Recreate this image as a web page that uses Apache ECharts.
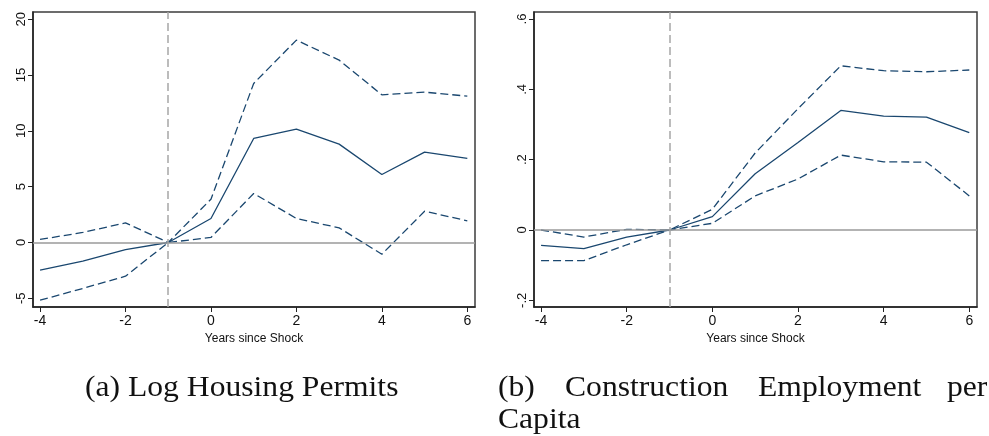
<!DOCTYPE html>
<html>
<head>
<meta charset="utf-8">
<script src="https://cdn.jsdelivr.net/npm/echarts@6/dist/echarts.min.js"></script>
<style>
  html, body { margin: 0; padding: 0; background: #fff; }
  #main { width: 989px; height: 436px; }
</style>
</head>
<body>
<div id="main"></div>
<script>
// years relative to the shock
var years = [-4, -3, -2, -1, 0, 1, 2, 3, 4, 5, 6];

// (a) log housing permits: estimate and 95% band
var permitsEst = [-2.48, -1.68, -0.63, 0, 2.15, 9.32, 10.15, 8.81, 6.09, 8.09, 7.53];
var permitsHi = [0.27, 0.9, 1.76, 0, 3.88, 14.25, 18.13, 16.34, 13.23, 13.47, 13.11];
var permitsLo = [-5.17, -4.12, -3.02, 0, 0.45, 4.39, 2.15, 1.31, -1.05, 2.8, 1.94];

// (b) construction employment per capita
var empEst = [-0.044, -0.053, -0.02, 0, 0.038, 0.16, 0.249, 0.34, 0.324, 0.321, 0.277];
var empHi = [0, -0.02, 0.002, 0, 0.059, 0.219, 0.345, 0.467, 0.453, 0.45, 0.455];
var empLo = [-0.087, -0.087, -0.042, 0, 0.019, 0.097, 0.145, 0.213, 0.194, 0.193, 0.097];

// tick labels
var xTicks = [-4, -2, 0, 2, 4, 6];
var permitsTicks = [-5, 0, 5, 10, 15, 20];
var empTicks = [-0.2, 0, 0.2, 0.4, 0.6];

var shockYear = -1;
var xName = 'Years since Shock';

var navy = '#1a476f';
var sans = 'Liberation Sans, Arial, sans-serif';
var serif = 'Liberation Serif, Times New Roman, serif';

function pairs(vals) {
  return years.map(function (x, i) { return [x, vals[i]]; });
}

function stataNum(v) {
  // Stata drops the leading zero: .4, -.2
  return String(v).replace(/^(-?)0\./, '$1.');
}

function xAxisOpt(idx) {
  return {
    type: 'value', gridIndex: idx, min: -4.165, max: 6.18,
    name: xName, nameLocation: 'middle', nameGap: 21,
    nameTextStyle: { color: '#111', fontSize: 12, fontFamily: sans },
    axisLine: { show: true, onZero: false, lineStyle: { color: '#222', width: 1.5 } },
    axisTick: { show: true, length: 5, customValues: xTicks, lineStyle: { color: '#222', width: 1 } },
    axisLabel: { customValues: xTicks, margin: 7, color: '#111', fontSize: 14, fontFamily: sans },
    splitLine: { show: false }
  };
}

function yAxisOpt(idx, min, max, ticks, fmt) {
  return {
    type: 'value', gridIndex: idx, min: min, max: max,
    axisLine: { show: true, onZero: false, lineStyle: { color: '#222', width: 1.5 } },
    axisTick: { show: true, length: 5, customValues: ticks, lineStyle: { color: '#222', width: 1 } },
    axisLabel: { customValues: ticks, rotate: 90, margin: 5, color: '#111', fontSize: 13,
      fontFamily: sans, formatter: fmt },
    splitLine: { show: false }
  };
}

function refLines(idx) {
  return {
    type: 'line', xAxisIndex: idx, yAxisIndex: idx, data: [], silent: true,
    markLine: {
      silent: true, symbol: 'none', label: { show: false }, animation: false,
      data: [
        { yAxis: 0, lineStyle: { color: '#9a9a9a', width: 1.5, type: 'solid' } },
        { xAxis: shockYear, lineStyle: { color: '#a6a6a6', width: 1.5, type: [8, 4] } }
      ]
    }
  };
}

function band(idx, vals, dashed) {
  return {
    type: 'line', xAxisIndex: idx, yAxisIndex: idx, data: pairs(vals),
    symbol: 'none', silent: true,
    lineStyle: { color: navy, width: 1.3, type: dashed ? [8, 4] : 'solid' }
  };
}

function caption(text, x, y) {
  return {
    type: 'text', x: x, y: y, scaleX: 1.09,
    style: { text: text, fill: '#111', fontSize: 29, fontFamily: serif, align: 'left', verticalAlign: 'middle' }
  };
}

var myChart = echarts.init(document.getElementById('main'), null, { renderer: 'canvas' });

var option = {
  animation: false,
  grid: [
    { left: 33, top: 12, width: 442, height: 295, show: true, borderColor: '#3c3c3c', borderWidth: 1.5 },
    { left: 534, top: 12, width: 443, height: 295, show: true, borderColor: '#3c3c3c', borderWidth: 1.5 }
  ],
  xAxis: [xAxisOpt(0), xAxisOpt(1)],
  yAxis: [
    yAxisOpt(0, -5.78, 20.65, permitsTicks, function (v) { return String(v); }),
    yAxisOpt(1, -0.219, 0.62, empTicks, stataNum)
  ],
  series: [
    refLines(0),
    band(0, permitsHi, true),
    band(0, permitsLo, true),
    band(0, permitsEst, false),
    refLines(1),
    band(1, empHi, true),
    band(1, empLo, true),
    band(1, empEst, false)
  ],
  graphic: [
    caption('(a) Log Housing Permits', 85, 388),
    caption('(b)', 498, 388),
    caption('Construction', 565, 388),
    caption('Employment', 758, 388),
    caption('per', 947, 388),
    caption('Capita', 498, 420)
  ]
};

myChart.setOption(option);
</script>
</body>
</html>
